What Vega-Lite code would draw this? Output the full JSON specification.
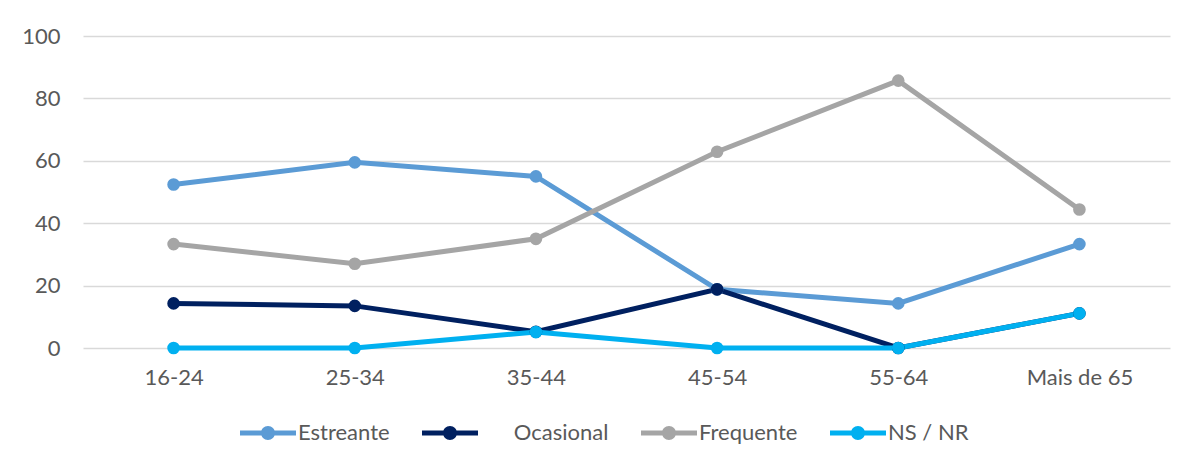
{
  "$schema": "https://vega.github.io/schema/vega-lite/v6.json",
  "width": 1087,
  "height": 312,
  "autosize": {"type": "none"},
  "padding": {"left": 83, "top": 36, "right": 22, "bottom": 118},
  "background": "white",
  "config": {
    "view": {"stroke": null},
    "font": "Lato",
    "axis": {"labelFont": "Lato", "labelFontSize": 22, "labelColor": "#595959", "ticks": false, "domain": false, "title": null}
  },
  "data": {
    "values": [
      {"idade": "16-24", "tipo": "Estreante", "valor": 52.4},
      {"idade": "25-34", "tipo": "Estreante", "valor": 59.5},
      {"idade": "35-44", "tipo": "Estreante", "valor": 55.0},
      {"idade": "45-54", "tipo": "Estreante", "valor": 18.8},
      {"idade": "55-64", "tipo": "Estreante", "valor": 14.3},
      {"idade": "Mais de 65", "tipo": "Estreante", "valor": 33.3},
      {"idade": "16-24", "tipo": "Ocasional", "valor": 14.3},
      {"idade": "25-34", "tipo": "Ocasional", "valor": 13.5},
      {"idade": "35-44", "tipo": "Ocasional", "valor": 5.2},
      {"idade": "45-54", "tipo": "Ocasional", "valor": 18.8},
      {"idade": "55-64", "tipo": "Ocasional", "valor": 0},
      {"idade": "Mais de 65", "tipo": "Ocasional", "valor": 11.1},
      {"idade": "16-24", "tipo": "Frequente", "valor": 33.3},
      {"idade": "25-34", "tipo": "Frequente", "valor": 27.0},
      {"idade": "35-44", "tipo": "Frequente", "valor": 35.0},
      {"idade": "45-54", "tipo": "Frequente", "valor": 62.9},
      {"idade": "55-64", "tipo": "Frequente", "valor": 85.7},
      {"idade": "Mais de 65", "tipo": "Frequente", "valor": 44.4},
      {"idade": "16-24", "tipo": "NS / NR", "valor": 0},
      {"idade": "25-34", "tipo": "NS / NR", "valor": 0},
      {"idade": "35-44", "tipo": "NS / NR", "valor": 5.1},
      {"idade": "45-54", "tipo": "NS / NR", "valor": 0},
      {"idade": "55-64", "tipo": "NS / NR", "valor": 0},
      {"idade": "Mais de 65", "tipo": "NS / NR", "valor": 11.1}
    ]
  },
  "mark": {"type": "line", "strokeWidth": 5, "point": {"filled": true, "size": 160}},
  "encoding": {
    "x": {
      "field": "idade", "type": "ordinal", "sort": null,
      "scale": {"type": "point", "padding": 0.5},
      "axis": {"labelAngle": 0, "labelPadding": 19, "grid": false}
    },
    "y": {
      "field": "valor", "type": "quantitative",
      "scale": {"domain": [0, 100], "nice": false},
      "axis": {"values": [0, 20, 40, 60, 80, 100], "labelPadding": 23, "grid": true, "gridColor": "#d9d9d9", "gridWidth": 1.5}
    },
    "color": {
      "field": "tipo", "type": "nominal",
      "scale": {"domain": ["Estreante", "Ocasional", "Frequente", "NS / NR"], "range": ["#5b9bd5", "#002060", "#a5a5a5", "#00b0f0"]},
      "legend": {
        "title": null,
        "orient": "none",
        "legendX": 157,
        "legendY": 369,
        "direction": "horizontal",
        "labelFont": "Lato",
        "labelFontSize": 22,
        "labelColor": "#595959",
        "labelOffset": 2,
        "columnPadding": 32,
        "symbolSize": 3136,
        "symbolType": "M-1,-0.09L1,-0.09L1,0.09L-1,0.09Z M0.25,0A0.25,0.25,0,1,1,-0.25,0A0.25,0.25,0,1,1,0.25,0Z",
        "symbolStrokeWidth": 0,
        "labelExpr": "datum.value === 'Ocasional' ? '\u200b\u00a0\u00a0\u00a0\u00a0\u00a0\u00a0Ocasional' : datum.label",
        "encode": {"symbols": {"update": {"fill": {"scale": "color", "field": "value"}, "strokeWidth": {"value": 0}, "opacity": {"value": 1}}}}
      }
    }
  }
}
